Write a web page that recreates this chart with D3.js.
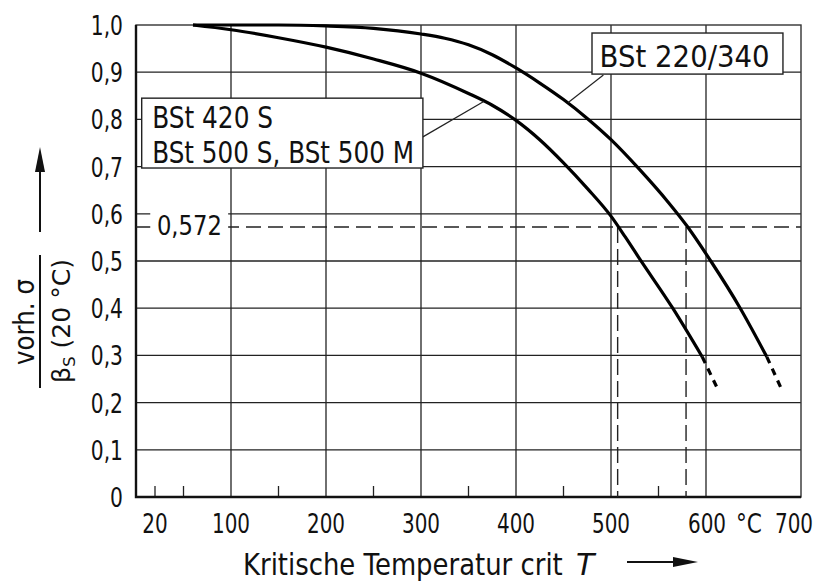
<!DOCTYPE html>
<html>
<head>
<meta charset="utf-8">
<script src="https://cdn.jsdelivr.net/npm/d3@7"></script>
<style>
  body { margin: 0; background: #fff; }
  svg text { font-family: "DejaVu Sans", sans-serif; fill: #111; }
</style>
</head>
<body>
<svg id="chart" width="825" height="583"></svg>
<script>
// values
const xTickValues = [20, 100, 200, 300, 400, 500, 600, 700];
const xTickLabels = ["20", "100", "200", "300", "400", "500", "600", "700"];
const xGridValues = [100, 200, 300, 400, 500, 600];
const xMinorTicks = [20, 50, 150, 250, 350, 450, 550];
const yTickValues = [0, 0.1, 0.2, 0.3, 0.4, 0.5, 0.6, 0.7, 0.8, 0.9, 1.0];

// BSt 420 S / BSt 500 S / BSt 500 M
const lowerTemp  = [60, 100, 150, 200, 250, 300, 350, 375, 400, 425, 450, 475, 500, 515, 530, 565, 596];
const lowerRatio = [1.0, 0.99, 0.973, 0.953, 0.928, 0.898, 0.855, 0.83, 0.798, 0.757, 0.708, 0.654, 0.595, 0.551, 0.505, 0.40, 0.297];
const lowerTailTemp  = [596, 612];
const lowerTailRatio = [0.297, 0.23];

// BSt 220/340
const upperTemp  = [60, 150, 200, 250, 300, 325, 350, 375, 400, 425, 450, 475, 500, 530, 560, 580, 605, 636, 664];
const upperRatio = [1.0, 1.0, 0.998, 0.993, 0.981, 0.972, 0.958, 0.937, 0.909, 0.877, 0.842, 0.802, 0.757, 0.694, 0.625, 0.574, 0.50, 0.40, 0.297];
const upperTailTemp  = [664, 681];
const upperTailRatio = [0.297, 0.222];

const critRatio = 0.572;
const critTemps = [507, 579];

const svg = d3.select("#chart");
const x = d3.scaleLinear().domain([0, 700]).range([136, 801]);
const y = d3.scaleLinear().domain([0, 1]).range([497, 25]);
const comma = d3.formatLocale({decimal: ",", thousands: ".", grouping: [3], currency: ["", ""]});
const fmtY = v => v === 0 ? "0" : comma.format(".1f")(v);

// narrow lettering: move x/y into a translate and squeeze horizontally
// k < 1 is a factor, anything larger is a target width in px
function condense(sel, k) {
  sel.each(function(d, i) {
    const t = d3.select(this);
    const kk = typeof k === "function" ? k(d, i) : k;
    const f = kk > 1 ? kk / this.getComputedTextLength() : kk;
    const px = +t.attr("x"), py = +t.attr("y");
    t.attr("x", null).attr("y", null)
      .attr("transform", `translate(${px},${py}) scale(${f},1)`);
  });
}

const grid = svg.append("g").attr("stroke", "#222").attr("stroke-width", 1.3);
grid.selectAll("line.h").data(yTickValues.slice(1, 10)).join("line")
  .attr("class", "h")
  .attr("x1", x(0)).attr("x2", x(700))
  .attr("y1", d => y(d)).attr("y2", d => y(d));
grid.selectAll("line.v").data(xGridValues).join("line")
  .attr("class", "v")
  .attr("x1", d => x(d)).attr("x2", d => x(d))
  .attr("y1", y(0)).attr("y2", y(1));
grid.selectAll("line.m").data(xMinorTicks).join("line")
  .attr("class", "m")
  .attr("x1", d => x(d)).attr("x2", d => x(d))
  .attr("y1", y(0)).attr("y2", y(0) - 11);

// frame
svg.append("rect")
  .attr("x", x(0)).attr("y", y(1))
  .attr("width", x(700) - x(0)).attr("height", y(0) - y(1))
  .attr("fill", "none").attr("stroke", "#333").attr("stroke-width", 1.4);
svg.append("path")
  .attr("d", `M${x(0)},${y(1)}V${y(0)}H${x(700)}`)
  .attr("fill", "none").attr("stroke", "#111").attr("stroke-width", 2.4);

// 0,572 reference lines
const dash = svg.append("g").attr("stroke", "#222").attr("stroke-width", 1.4).attr("fill", "none");
dash.append("line")
  .attr("x1", x(0)).attr("x2", x(700))
  .attr("y1", y(critRatio)).attr("y2", y(critRatio))
  .attr("stroke-dasharray", "15,7");
dash.selectAll("line.crit").data(critTemps).join("line")
  .attr("class", "crit")
  .attr("x1", d => x(d)).attr("x2", d => x(d))
  .attr("y1", y(critRatio)).attr("y2", y(0))
  .attr("stroke-dasharray", "16,6");

// curves
const line = d3.line().x(d => x(d[0])).y(d => y(d[1])).curve(d3.curveMonotoneX);
const curves = [
  {temp: lowerTemp, ratio: lowerRatio, dashed: false},
  {temp: upperTemp, ratio: upperRatio, dashed: false},
  {temp: lowerTailTemp, ratio: lowerTailRatio, dashed: true},
  {temp: upperTailTemp, ratio: upperTailRatio, dashed: true}
];
svg.selectAll("path.curve").data(curves).join("path")
  .attr("class", "curve")
  .attr("d", c => line(d3.zip(c.temp, c.ratio)))
  .attr("fill", "none").attr("stroke", "#000").attr("stroke-width", 3.2)
  .attr("stroke-dasharray", c => c.dashed ? "7,6" : null);

// label boxes and leaders
const lead = svg.append("g").attr("stroke", "#222").attr("stroke-width", 1.2);
lead.append("line").attr("x1", x(302)).attr("y1", y(0.763)).attr("x2", x(366)).attr("y2", y(0.838));
lead.append("line").attr("x1", x(492)).attr("y1", y(0.894)).attr("x2", x(455)).attr("y2", y(0.836));

svg.append("rect")
  .attr("x", x(6)).attr("y", y(0.845))
  .attr("width", x(302) - x(6)).attr("height", y(0.697) - y(0.845))
  .attr("fill", "#fff").attr("stroke", "#222").attr("stroke-width", 1.4);
svg.append("text").attr("x", x(17)).attr("y", y(0.782)).attr("font-size", 30)
  .text("BSt 420 S").call(condense, 121);
svg.append("text").attr("x", x(17)).attr("y", y(0.708)).attr("font-size", 30)
  .text("BSt 500 S, BSt 500 M").call(condense, 262);

svg.append("rect")
  .attr("x", x(480)).attr("y", y(0.983))
  .attr("width", x(681) - x(480)).attr("height", y(0.896) - y(0.983))
  .attr("fill", "#fff").attr("stroke", "#222").attr("stroke-width", 1.4);
svg.append("text").attr("x", x(488)).attr("y", y(0.911)).attr("font-size", 31)
  .text("BSt 220/340").call(condense, 170);

svg.append("rect")
  .attr("x", x(15)).attr("y", y(critRatio) - 15)
  .attr("width", x(97) - x(15)).attr("height", 30)
  .attr("fill", "#fff");
svg.append("text").attr("x", x(22)).attr("y", y(critRatio) + 8).attr("font-size", 27)
  .text(comma.format(".3f")(critRatio)).call(condense, 65);

// axis labels
svg.selectAll("text.yt").data(yTickValues).join("text")
  .attr("class", "yt")
  .attr("x", 123).attr("y", d => y(d) + 10)
  .attr("text-anchor", "end").attr("font-size", 27)
  .text(fmtY)
  .call(condense, 0.75);

const xOffsets = [0, 0, 0, 0, 0, 0, 1, -7];
svg.selectAll("text.xt").data(xTickValues).join("text")
  .attr("class", "xt")
  .attr("x", (d, i) => x(d) + xOffsets[i]).attr("y", 533)
  .attr("text-anchor", "middle").attr("font-size", 27)
  .text((d, i) => xTickLabels[i])
  .call(condense, 0.74);
svg.append("text").attr("x", x(600) + 30).attr("y", 533).attr("font-size", 27)
  .text("°C").call(condense, 26);

svg.append("text").attr("x", 243).attr("y", 575).attr("font-size", 30)
  .text("Kritische Temperatur crit").call(condense, 320);
svg.append("text").attr("x", 576).attr("y", 575).attr("font-size", 30)
  .attr("font-style", "italic").text("T");

svg.append("line").attr("x1", 627).attr("x2", 680).attr("y1", 562).attr("y2", 562)
  .attr("stroke", "#111").attr("stroke-width", 2);
svg.append("path").attr("d", "M673,557L698,562L673,567Z").attr("fill", "#111");

// y title as a fraction, rotated
const yt = svg.append("g");
yt.append("line").attr("x1", 40).attr("x2", 40).attr("y1", 255).attr("y2", 388)
  .attr("stroke", "#111").attr("stroke-width", 2);
yt.append("text").attr("transform", "translate(34,322) rotate(-90)")
  .attr("text-anchor", "middle").attr("font-size", 28)
  .text("vorh. σ")
  .attr("textLength", 86).attr("lengthAdjust", "spacingAndGlyphs");
const den = yt.append("text").attr("transform", "translate(70,321) rotate(-90)")
  .attr("text-anchor", "middle").attr("font-size", 24);
den.append("tspan").text("β");
den.append("tspan").attr("font-size", 16).attr("dy", 5).text("S");
den.append("tspan").attr("dy", -5).text(" (20 °C)");
den.attr("textLength", 124).attr("lengthAdjust", "spacingAndGlyphs");

yt.append("line").attr("x1", 40).attr("x2", 40).attr("y1", 232).attr("y2", 165)
  .attr("stroke", "#111").attr("stroke-width", 2);
yt.append("path").attr("d", "M35,172L40,147L45,172Z").attr("fill", "#111");
</script>
</body>
</html>
